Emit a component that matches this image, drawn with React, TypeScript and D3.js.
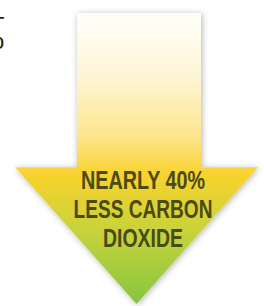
import React from 'react';
import * as d3 from 'd3';

const labelLines = ['NEARLY 40%', 'LESS CARBON', 'DIOXIDE'];
const lineWidths = [124, 139, 80];
const gradientStops = [
  { offset: 0, color: '#fffffb' },
  { offset: 0.22, color: '#fef5d6' },
  { offset: 0.42, color: '#fde68f' },
  { offset: 0.56, color: '#f8d22c' },
  { offset: 0.75, color: '#c7d33a' },
  { offset: 1, color: '#86c540' },
];
// arrow outline in a 0..1 unit space
const arrowX = [0.26, 0.74, 0.74, 1, 0.5, 0, 0.26];
const arrowY = [0, 0, 0.53, 0.53, 1, 0.53, 0.53];

const width = 264;
const height = 306;

export default function App() {
  const x = d3.scaleLinear().domain([0, 1]).range([15, 258]);
  const y = d3.scaleLinear().domain([0, 1]).range([13, 304]);
  const shaftX = d3.scaleLinear().domain([0.26, 0.74]).range([77, 201]);

  const pts: [number, number][] = arrowX.map((v, i) => {
    const px = v === 0.26 || v === 0.74 ? shaftX(v) : x(v);
    return [px, y(arrowY[i])];
  });
  const path = d3.line()(pts) + 'Z';
  const lineY = d3.scaleLinear().domain([0, 1]).range([189, 218]);

  return (
    <svg width={width} height={height} style={{ position: 'absolute', left: 0, top: 0 }}>
      <defs>
        <linearGradient id="g" x1="0" y1="0" x2="0" y2="1">
          {gradientStops.map((s, i) => (
            <stop key={i} offset={s.offset} stopColor={s.color} />
          ))}
        </linearGradient>
        <filter id="sh" x="-20%" y="-20%" width="140%" height="140%">
          <feDropShadow dx="1" dy="1" stdDeviation="3" floodColor="#000" floodOpacity="0.3" />
        </filter>
      </defs>
      <rect width={width} height={height} fill="#fff" />
      <text x={-9} y={32} fontFamily="Liberation Sans" fontSize={22} fill="#222">T</text>
      <text x={-8} y={49} fontFamily="Liberation Sans" fontSize={22} fill="#222">o</text>
      <path d={path} fill="url(#g)" filter="url(#sh)" />
      {labelLines.map((t, i) => (
        <text
          key={t}
          x={143}
          y={lineY(i)}
          textAnchor="middle"
          fontFamily="Liberation Sans, Arial, sans-serif"
          fontWeight="bold"
          fontSize={26}
          textLength={lineWidths[i]}
          lengthAdjust="spacingAndGlyphs"
          fill="#4b4a14"
        >
          {t}
        </text>
      ))}
    </svg>
  );
}
